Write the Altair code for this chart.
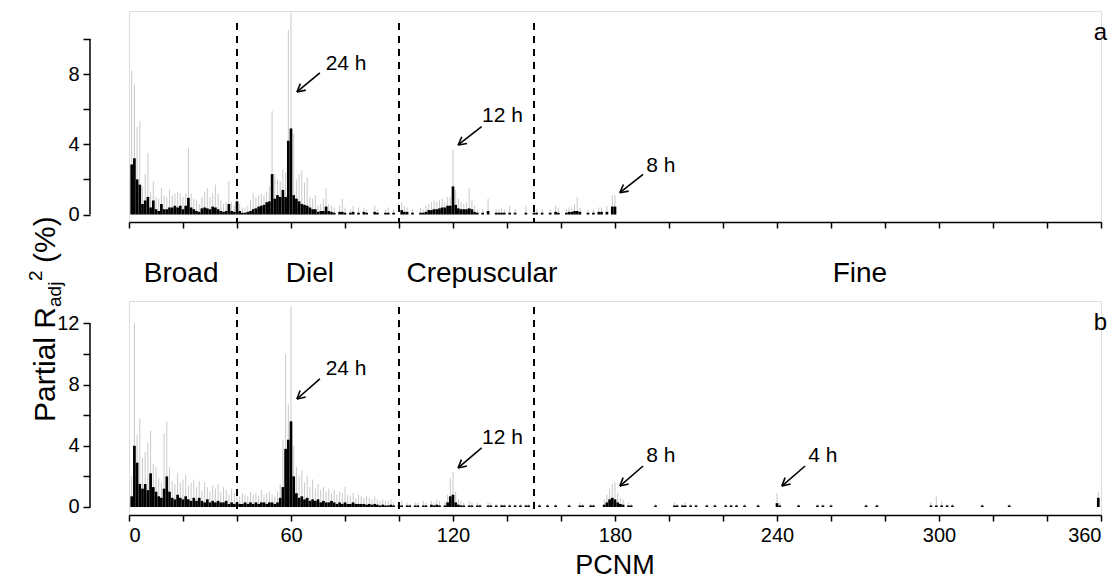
import math
import altair as alt
import pandas as pd

# ---------------- data ----------------
# Panel a : PCNM index, partial R2adj (%), upper whisker (%)
a_pcnm = [1, 2, 3, 4, 5, 6, 7, 8, 9, 10, 11, 12, 13, 14, 15, 16, 17, 18, 19, 20,
          21, 22, 23, 24, 25, 26, 27, 28, 29, 30, 31, 32, 33, 34, 35, 36, 37, 38, 39, 40,
          41, 42, 43, 44, 45, 46, 47, 48, 49, 50, 51, 52, 53, 54, 55, 56, 57, 58, 59, 60,
          61, 62, 63, 64, 65, 66, 67, 68, 69, 70, 71, 72, 73, 74, 75, 76, 78, 79, 80, 82,
          83, 85, 87, 88, 91, 92, 95, 96, 98, 101, 102, 103, 105, 108, 109, 110, 111, 112, 113, 114,
          115, 116, 117, 118, 119, 120, 121, 122, 123, 124, 125, 126, 127, 128, 129, 131, 133, 136, 137, 138,
          139, 141, 143, 147, 150, 151, 153, 156, 158, 159, 162, 163, 164, 165, 166, 167, 170, 172, 174, 175,
          177, 179, 180]
a_value = [2.85, 3.2, 2.0, 1.7, 0.6, 0.8, 1.0, 0.4, 0.8, 0.3, 0.2, 0.6, 0.3, 0.3, 0.4, 0.4, 0.5, 0.4, 0.5, 0.3,
           0.5, 0.95, 0.4, 0.3, 0.2, 0.15, 0.35, 0.4, 0.35, 0.3, 0.45, 0.4, 0.3, 0.2, 0.15, 0.2, 0.6, 0.2, 0.15, 0.75,
           0.2, 0.1, 0.1, 0.15, 0.2, 0.3, 0.35, 0.45, 0.5, 0.55, 0.7, 0.75, 2.3, 0.9, 1.1, 1.0, 1.4, 1.0, 4.2, 4.9,
           1.1, 0.9, 0.75, 0.6, 0.55, 0.5, 0.4, 0.3, 0.3, 0.15, 0.2, 0.2, 0.45, 0.2, 0.15, 0.1, 0.15, 0.15, 0.1, 0.1,
           0.15, 0.1, 0.15, 0.1, 0.15, 0.1, 0.1, 0.1, 0.1, 0.25, 0.15, 0.15, 0.1, 0.1, 0.1, 0.15, 0.25, 0.25, 0.3, 0.3,
           0.35, 0.4, 0.4, 0.5, 0.5, 1.6, 0.55, 0.35, 0.3, 0.3, 0.3, 0.35, 0.3, 0.15, 0.1, 0.1, 0.2, 0.1, 0.1, 0.1,
           0.1, 0.1, 0.1, 0.1, 0.1, 0.1, 0.1, 0.1, 0.15, 0.1, 0.1, 0.15, 0.15, 0.2, 0.2, 0.15, 0.1, 0.1, 0.15, 0.15,
           0.15, 0.45, 0.45]
a_upper = [8.2, 7.4, 5.0, 5.3, 1.6, 2.3, 3.5, 1.3, 1.9, 1.0, 0.9, 1.5, 1.1, 1.0, 1.4, 1.1, 1.2, 1.3, 1.2, 1.0,
           1.2, 3.8, 1.2, 0.9, 0.8, 0.6, 1.0, 1.3, 1.5, 1.0, 1.2, 1.7, 1.2, 0.8, 0.6, 0.7, 1.9, 0.7, 0.5, 1.2,
           0.6, 0.4, 0.4, 0.5, 0.8, 1.2, 1.0, 1.1, 1.2, 1.1, 1.3, 1.6, 5.9, 2.3, 2.0, 1.9, 2.6, 2.4, 10.5, 11.5,
           4.6, 2.0, 2.3, 2.5, 1.8, 2.1, 1.0, 0.9, 1.1, 0.5, 0.6, 0.9, 1.5, 0.6, 0.5, 0.4, 0.5, 0.9, 0.4, 0.3,
           0.5, 0.4, 0.4, 0.3, 0.5, 0.3, 0.3, 0.4, 0.3, 0.7, 0.5, 0.4, 0.3, 0.4, 0.3, 0.5, 0.6, 0.7, 0.8, 0.7,
           0.8, 0.9, 0.7, 1.0, 1.0, 3.7, 1.4, 0.9, 0.7, 0.6, 0.7, 1.5, 0.8, 0.5, 0.3, 0.3, 0.9, 0.3, 0.3, 0.4,
           0.3, 0.5, 0.3, 0.5, 0.3, 0.3, 0.3, 0.3, 0.5, 0.4, 0.3, 0.4, 0.4, 0.6, 1.0, 0.4, 0.3, 0.3, 0.4, 0.4,
           0.5, 1.1, 1.1]

# Panel b
b_pcnm = [1, 2, 3, 4, 5, 6, 7, 8, 9, 10, 11, 12, 13, 14, 15, 16, 17, 18, 19, 20,
          21, 22, 23, 24, 25, 26, 27, 28, 29, 30, 31, 32, 33, 34, 35, 36, 37, 38, 39, 40,
          41, 42, 43, 44, 45, 46, 47, 48, 49, 50, 51, 52, 53, 54, 55, 56, 57, 58, 59, 60,
          61, 62, 63, 64, 65, 66, 67, 68, 69, 70, 71, 72, 73, 74, 75, 76, 77, 78, 79, 80,
          81, 82, 83, 84, 85, 86, 87, 88, 89, 90, 91, 92, 93, 94, 95, 96, 97, 98, 100, 101,
          103, 104, 106, 107, 109, 110, 112, 113, 114, 115, 117, 118, 119, 120, 121, 122, 123, 124, 126, 127,
          129, 130, 133, 134, 136, 138, 139, 141, 143, 145, 147, 148, 152, 155, 158, 163, 167, 168, 171, 172,
          176, 177, 178, 179, 180, 181, 182, 183, 185, 186, 195, 202, 203, 205, 206, 208, 210, 214, 217, 221,
          223, 225, 228, 233, 240, 241, 248, 255, 257, 260, 273, 277, 297, 299, 301, 303, 305, 316, 326, 359]
b_value = [0.7, 4.0, 2.9, 1.5, 1.2, 1.5, 1.1, 2.2, 1.3, 1.0, 0.7, 0.6, 1.2, 2.0, 1.0, 0.6, 0.5, 0.8, 0.6, 0.5,
           0.7, 0.5, 0.4, 0.6, 0.4, 0.6, 0.4, 0.3, 0.5, 0.3, 0.4, 0.3, 0.4, 0.3, 0.3, 0.4, 0.2, 0.3, 0.2, 0.3,
           0.2, 0.2, 0.3, 0.2, 0.3, 0.2, 0.3, 0.2, 0.3, 0.3, 0.2, 0.3, 0.3, 0.2, 0.3, 0.6, 1.3, 3.8, 4.4, 5.6,
           2.0, 0.9, 0.6, 0.7, 0.5, 0.6, 0.4, 0.5, 0.4, 0.5, 0.3, 0.4, 0.3, 0.3, 0.4, 0.3, 0.2, 0.3, 0.2, 0.3,
           0.2, 0.2, 0.3, 0.2, 0.2, 0.2, 0.2, 0.15, 0.2, 0.15, 0.2, 0.15, 0.1, 0.15, 0.1, 0.1, 0.15, 0.1, 0.1, 0.1,
           0.1, 0.1, 0.1, 0.1, 0.1, 0.1, 0.15, 0.1, 0.15, 0.1, 0.1, 0.3, 0.7, 0.8, 0.3, 0.15, 0.1, 0.1, 0.1, 0.1,
           0.1, 0.1, 0.1, 0.1, 0.1, 0.1, 0.1, 0.1, 0.1, 0.1, 0.1, 0.1, 0.1, 0.1, 0.1, 0.1, 0.1, 0.1, 0.1, 0.1,
           0.15, 0.3, 0.5, 0.6, 0.5, 0.3, 0.2, 0.15, 0.1, 0.1, 0.1, 0.1, 0.1, 0.1, 0.1, 0.1, 0.1, 0.1, 0.1, 0.1,
           0.1, 0.1, 0.1, 0.1, 0.25, 0.1, 0.1, 0.1, 0.1, 0.1, 0.1, 0.1, 0.1, 0.1, 0.1, 0.1, 0.1, 0.1, 0.1, 0.6]
b_upper = [2.0, 12.0, 4.7, 5.8, 3.2, 3.6, 4.2, 5.0, 2.8, 2.6, 1.9, 1.6, 4.8, 5.6, 2.6, 1.7, 1.5, 2.2, 1.6, 1.8,
           2.1, 1.4, 1.6, 1.8, 1.3, 1.7, 1.1, 1.6, 1.3, 1.0, 1.4, 1.2, 1.5, 1.0, 1.3, 1.1, 0.8, 1.2, 0.9, 1.0,
           0.7, 0.9, 0.8, 0.7, 1.0, 0.8, 0.9, 0.7, 1.1, 0.8, 0.9, 1.0, 0.8, 0.7, 1.0, 1.5, 4.4, 10.0, 6.7, 13.1,
           4.0, 2.6, 2.0, 2.4, 1.6, 2.0, 1.3, 1.8, 1.2, 1.5, 1.1, 1.3, 1.0, 1.2, 0.9, 1.1, 0.8, 1.0, 0.9, 1.3,
           0.8, 0.7, 0.9, 0.6, 0.8, 0.7, 0.6, 0.7, 0.6, 0.5, 0.7, 0.5, 0.4, 0.5, 0.4, 0.4, 0.5, 0.3, 0.3, 0.4,
           0.3, 0.2, 0.3, 0.3, 0.4, 0.3, 0.4, 0.3, 0.5, 0.4, 0.3, 0.8, 1.9, 2.3, 1.0, 0.5, 0.4, 0.3, 0.4, 0.3,
           0.3, 0.2, 0.3, 0.3, 0.2, 0.2, 0.2, 0.2, 0.2, 0.2, 0.2, 0.2, 0.2, 0.2, 0.2, 0.2, 0.3, 0.2, 0.2, 0.2,
           0.5, 0.8, 1.2, 1.5, 1.6, 0.9, 0.6, 0.5, 0.3, 0.2, 0.2, 0.3, 0.2, 0.2, 0.3, 0.2, 0.2, 0.2, 0.2, 0.2,
           0.2, 0.2, 0.2, 0.2, 0.9, 0.3, 0.2, 0.2, 0.2, 0.2, 0.2, 0.2, 0.3, 0.7, 0.4, 0.2, 0.2, 0.2, 0.2, 1.0]

boundaries = [40, 100, 150]
region_names = ["Broad", "Diel", "Crepuscular", "Fine"]
region_pos = [19.3, 67.0, 130.7, 270.7]
x_ticks = list(range(0, 361, 20))

# annotations: label, text position, arrow start, arrow end (PCNM, %)
a_ann_text = ["24 h", "12 h", "8 h"]
a_ann_xy = [(80.4, 8.57), (138.3, 5.6), (197.0, 2.76)]
a_arrows = [((70.7, 8.06), (62.2, 6.98)), ((130.6, 5.0), (121.9, 3.96)), ((190.4, 2.29), (181.8, 1.24))]
b_ann_text = ["24 h", "12 h", "8 h", "4 h"]
b_ann_xy = [(80.4, 9.0), (138.3, 4.5), (197.0, 3.33), (257.0, 3.33)]
b_arrows = [((70.7, 8.37), (62.2, 7.06)), ((130.6, 3.86), (121.9, 2.55)),
            ((190.4, 2.68), (181.8, 1.37)), ((250.4, 2.68), (241.8, 1.37))]

# ---------------- layout ----------------
FONT = "Liberation Sans"
W = 972
HA, HB = 211, 214
A_DOMAIN = [-0.427, 11.589]
B_DOMAIN = [-0.523, 13.464]
SPACING = 79
YAXIS_OFFSET = 39

xscale = alt.Scale(domain=[0, 360], nice=False, zero=False)


def arrow_segments(arrows, sx, sy, head=9.0, ang=28.0):
    rows = []
    for (x0, y0), (x1, y1) in arrows:
        rows.append(dict(x=x0, y=y0, x2=x1, y2=y1))
        dx, dy = (x1 - x0) * sx, (y1 - y0) * sy
        n = math.hypot(dx, dy)
        ux, uy = dx / n, dy / n
        for s in (1, -1):
            a = math.radians(ang) * s
            rx = ux * math.cos(a) - uy * math.sin(a)
            ry = ux * math.sin(a) + uy * math.cos(a)
            rows.append(dict(x=x1, y=y1, x2=x1 - head * rx / sx, y2=y1 - head * ry / sy))
    return pd.DataFrame(rows)


def panel(pcnm, value, upper, ydom, h, ymax_tick, ann_text, ann_xy, arrows,
          letter, show_labels, dash_top):
    yscale = alt.Scale(domain=ydom, nice=False, zero=False)
    sx = W / 360.0
    sy = h / (ydom[1] - ydom[0])
    xaxis = alt.Axis(values=x_ticks, title=None, grid=False, domainColor="black", domainWidth=1.5,
                     tickColor="black", tickWidth=1.5, tickSize=6, labels=show_labels,
                     labelExpr="datum.value % 60 === 0 ? datum.label : ''",
                     labelFont=FONT, labelFontSize=20, labelColor="black", labelPadding=4)
    yaxis = alt.Axis(values=list(range(0, ymax_tick + 1, 2)), title=None, grid=False, domain=False,
                     offset=YAXIS_OFFSET, tickColor="black", tickWidth=1.5, tickSize=7, format="d",
                     labelExpr="datum.value % 4 === 0 ? datum.label : ''",
                     labelFont=FONT, labelFontSize=20, labelColor="black", labelPadding=4)
    X = lambda f: alt.X(f, scale=xscale, axis=xaxis)
    Y = lambda f: alt.Y(f, scale=yscale, axis=yaxis)

    df = pd.DataFrame({"pcnm": pcnm, "value": value, "upper": upper})
    df["x0"] = df["pcnm"] - 0.5
    df["x1"] = df["pcnm"] + 0.5
    df["zero"] = 0.0

    whisk = alt.Chart(df).mark_rule(color="#c9c9c9", strokeWidth=1).encode(
        x=X("pcnm:Q"), y=Y("zero:Q"), y2="upper:Q")
    bars = alt.Chart(df).mark_rect(color="black").encode(
        x=X("x0:Q"), x2="x1:Q", y=Y("zero:Q"), y2="value:Q")
    dashed = alt.Chart(pd.DataFrame({"pos": boundaries})).mark_rule(
        color="black", strokeWidth=2, strokeDash=[7, 6]).encode(
        x=X("pos:Q"), y=alt.value(dash_top), y2=alt.value(h))
    ydom_line = alt.Chart(pd.DataFrame({"y0": [0], "y1": [ymax_tick]})).mark_rule(
        color="black", strokeWidth=1.5).encode(
        x=alt.value(-YAXIS_OFFSET), y=Y("y0:Q"), y2="y1:Q")
    arr = alt.Chart(arrow_segments(arrows, sx, sy)).mark_rule(color="black", strokeWidth=1.6).encode(
        x=X("x:Q"), y=Y("y:Q"), x2="x2:Q", y2="y2:Q")
    ann = alt.Chart(pd.DataFrame({"x": [p[0] for p in ann_xy], "y": [p[1] for p in ann_xy],
                                  "t": ann_text})).mark_text(
        font=FONT, fontSize=21, color="black", align="center", baseline="middle").encode(
        x=X("x:Q"), y=Y("y:Q"), text="t:N")
    let = alt.Chart(pd.DataFrame({"t": [letter]})).mark_text(
        font=FONT, fontSize=24, color="black", align="right", baseline="middle").encode(
        x=alt.value(W + 6), y=alt.value(22), text="t:N")
    return [whisk, bars, dashed, ydom_line, arr, ann, let], X


layers_a, Xa = panel(a_pcnm, a_value, a_upper, A_DOMAIN, HA, 10, a_ann_text, a_ann_xy, a_arrows,
                     "a", False, 12)
layers_b, Xb = panel(b_pcnm, b_value, b_upper, B_DOMAIN, HB, 12, b_ann_text, b_ann_xy, b_arrows,
                     "b", True, 6)

regions = alt.Chart(pd.DataFrame({"pos": region_pos, "name": region_names})).mark_text(
    font=FONT, fontSize=28, color="black", align="center", baseline="middle").encode(
    x=Xa("pos:Q"), y=alt.value(263), text="name:N")


def vtext(txt, x, y, size):
    return alt.Chart(pd.DataFrame({"t": [txt]})).mark_text(
        font=FONT, fontSize=size, color="black", align="left", baseline="alphabetic", angle=270).encode(
        x=alt.value(x), y=alt.value(y), text="t:N")


ytitle = [
    vtext("Partial R", -74, 411, 30),
    vtext("adj", -68, 296, 19),
    vtext("2", -87, 270, 19),
    vtext("(%)", -74, 252, 30),
]
anchor = alt.Chart(pd.DataFrame({"k": [0]})).mark_rule(opacity=0, strokeWidth=1).encode(
    x=alt.value(-120.5), y=alt.value(0), y2=alt.value(2))

xtitle = alt.Chart(pd.DataFrame({"t": ["PCNM"]})).mark_text(
    font=FONT, fontSize=27, color="black", align="center", baseline="middle").encode(
    x=alt.value(W / 2), y=alt.value(265), text="t:N")

panel_a = alt.layer(*layers_a, regions, *ytitle, anchor).properties(width=W, height=HA)
panel_b = alt.layer(*layers_b, xtitle).properties(width=W, height=HB)

chart = alt.vconcat(panel_a, panel_b, spacing=SPACING).properties(
    bounds="flush", padding={"left": 0, "top": 2, "right": 0, "bottom": 0}
).configure_view(stroke=None).configure(font=FONT)

chart.save("out.html", embed_options={"renderer": "svg", "actions": False})
